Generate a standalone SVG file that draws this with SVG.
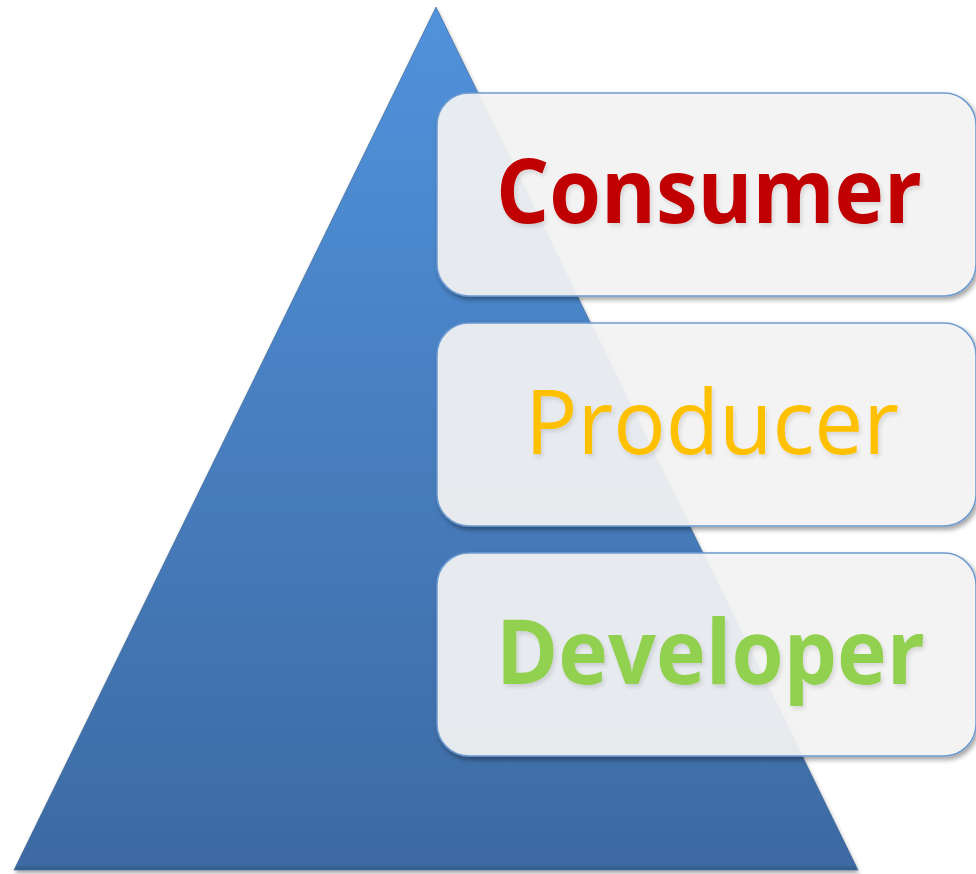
<svg xmlns="http://www.w3.org/2000/svg" width="976" height="874" viewBox="0 0 976 874">
  <defs>
    <linearGradient id="triGrad" x1="0" y1="0" x2="0" y2="1">
      <stop offset="0" stop-color="#5192dc"/>
      <stop offset="1" stop-color="#3d6aa2"/>
    </linearGradient>
    <filter id="boxShadow" x="-5%" y="-10%" width="115%" height="125%">
      <feGaussianBlur in="SourceAlpha" stdDeviation="2.5"/>
      <feOffset dx="2" dy="3" result="b"/>
      <feComponentTransfer><feFuncA type="linear" slope="0.4"/></feComponentTransfer>
      <feMerge><feMergeNode/><feMergeNode in="SourceGraphic"/></feMerge>
    </filter>
    <filter id="triShadow" x="-5%" y="-5%" width="110%" height="110%">
      <feGaussianBlur in="SourceAlpha" stdDeviation="2"/>
      <feOffset dx="1" dy="3"/>
      <feComponentTransfer><feFuncA type="linear" slope="0.35"/></feComponentTransfer>
      <feMerge><feMergeNode/><feMergeNode in="SourceGraphic"/></feMerge>
    </filter>
    <filter id="textShadow" x="-5%" y="-20%" width="110%" height="140%">
      <feGaussianBlur in="SourceAlpha" stdDeviation="2"/>
      <feOffset dx="2" dy="3"/>
      <feComponentTransfer><feFuncA type="linear" slope="0.12"/></feComponentTransfer>
      <feMerge><feMergeNode/><feMergeNode in="SourceGraphic"/></feMerge>
    </filter>
  </defs>
  <style>
    .box { fill: #f6f6f6; fill-opacity: 0.9; stroke: #6e9bd0; stroke-width: 1.5; }
    .lbl { font-family: "Open Sans", "Liberation Sans", sans-serif; font-size: 90px; }
  </style>

  <g id="pyramid" filter="url(#triShadow)">
    <polygon points="436,7 858,870 14,870" fill="url(#triGrad)"/>
    <polygon points="436,7 858,870 14,870" fill="none" stroke="#35608f" stroke-width="1" stroke-opacity="0.6"/>
    <line x1="16" y1="868" x2="856" y2="868" stroke="#2f5683" stroke-width="3" stroke-opacity="0.6"/>
  </g>

  <g id="consumer">
    <rect class="box" x="437" y="93" width="539" height="203" rx="32" filter="url(#boxShadow)"/>
    <text class="lbl" x="496" y="223" textLength="426" lengthAdjust="spacingAndGlyphs" font-weight="bold" fill="#c00000" filter="url(#textShadow)">Consumer</text>
  </g>

  <g id="producer">
    <rect class="box" x="437" y="323" width="539" height="203" rx="32" filter="url(#boxShadow)"/>
    <text class="lbl" x="525" y="454" textLength="374" lengthAdjust="spacingAndGlyphs" fill="#ffc000" filter="url(#textShadow)">Producer</text>
  </g>

  <g id="developer">
    <rect class="box" x="437" y="553" width="539" height="203" rx="32" filter="url(#boxShadow)"/>
    <text class="lbl" x="496" y="684" textLength="429" lengthAdjust="spacingAndGlyphs" font-weight="bold" fill="#92d050" filter="url(#textShadow)">Developer</text>
  </g>

  <g id="connectors"/>
</svg>
